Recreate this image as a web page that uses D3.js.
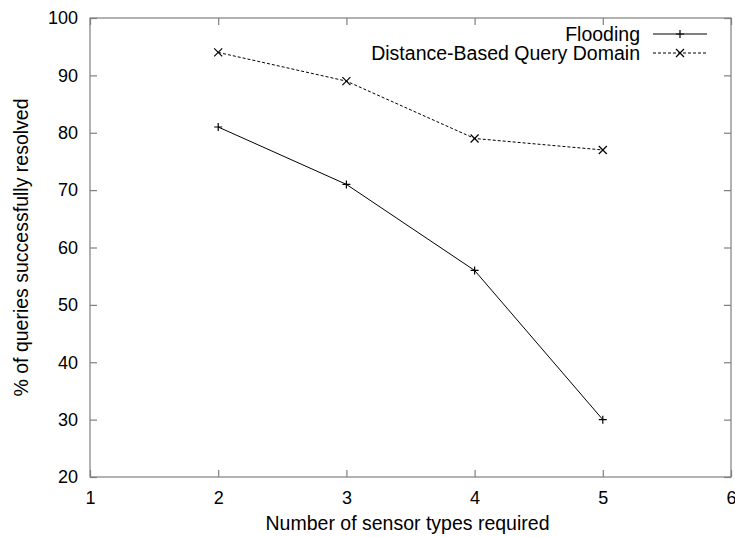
<!DOCTYPE html>
<html>
<head>
<meta charset="utf-8">
<script src="https://cdn.jsdelivr.net/npm/d3@7"></script>
<style>
  body { margin: 0; background: #fff; }
  text { font-family: "Liberation Sans", Arial, sans-serif; fill: #000; }
</style>
</head>
<body>
<svg width="735" height="537"></svg>
<script>
// data
var sensorTypes = [2, 3, 4, 5];
var flooding = [81, 71, 56, 30];
var distanceBased = [94, 89, 79, 77];
var xTicks = [1, 2, 3, 4, 5, 6];
var yTicks = [20, 30, 40, 50, 60, 70, 80, 90, 100];
var seriesNames = ["Flooding", "Distance-Based Query Domain"];

var margins = { top: 18, bottom: 60, left: 90, right: 4 };
var svg = d3.select("svg");
var svgWidth = +svg.attr("width");
var svgHeight = +svg.attr("height");
var chartWidth = svgWidth - margins.left - margins.right;
var chartHeight = svgHeight - margins.top - margins.bottom;

var g = svg.append("g")
  .attr("transform", `translate(${margins.left},${margins.top})`);

var xScale = d3.scaleLinear([1, 6], [0, chartWidth]);
var yScale = d3.scaleLinear([20, 100], [chartHeight, 0]);

var frameColor = "#7f7f7f";
var tick = 7;

// frame
g.append("rect")
  .attr("x", 0).attr("y", 0)
  .attr("width", chartWidth).attr("height", chartHeight)
  .attr("fill", "none").attr("stroke", frameColor).attr("stroke-width", 1.2);

// mirrored inward ticks
function styleAxis(sel) {
  sel.select(".domain").remove();
  sel.selectAll(".tick line").attr("stroke", frameColor).attr("stroke-width", 1.2);
  sel.selectAll(".tick text").style("font-size", "18px").attr("fill", "#000");
}

g.append("g")
  .attr("transform", `translate(0,${chartHeight})`)
  .call(d3.axisBottom(xScale).tickValues(xTicks).tickFormat(d3.format("d"))
    .tickSizeInner(-tick).tickSizeOuter(0).tickPadding(14))
  .call(styleAxis);

g.append("g")
  .call(d3.axisTop(xScale).tickValues(xTicks).tickFormat("")
    .tickSizeInner(-tick).tickSizeOuter(0))
  .call(styleAxis);

g.append("g")
  .call(d3.axisLeft(yScale).tickValues(yTicks).tickFormat(d3.format("d"))
    .tickSizeInner(-tick).tickSizeOuter(0).tickPadding(12))
  .call(styleAxis);

g.append("g")
  .attr("transform", `translate(${chartWidth},0)`)
  .call(d3.axisRight(yScale).tickValues(yTicks).tickFormat("")
    .tickSizeInner(-tick).tickSizeOuter(0))
  .call(styleAxis);

// axis titles
svg.append("text")
  .attr("x", margins.left + chartWidth / 2 - 3)
  .attr("y", 530)
  .attr("text-anchor", "middle")
  .style("font-size", "19.5px")
  .text("Number of sensor types required");

svg.append("text")
  .attr("transform", `translate(28,${margins.top + chartHeight / 2}) rotate(-90)`)
  .attr("text-anchor", "middle")
  .style("font-size", "19.5px")
  .text("% of queries successfully resolved");

// lines
var line = d3.line()
  .x(function (d) { return xScale(d[0]); })
  .y(function (d) { return yScale(d[1]); });

var floodPts = sensorTypes.map(function (s, i) { return [s, flooding[i]]; });
var distPts = sensorTypes.map(function (s, i) { return [s, distanceBased[i]]; });

g.append("path").datum(floodPts).attr("d", line)
  .attr("fill", "none").attr("stroke", "#000").attr("stroke-width", 1);
g.append("path").datum(distPts).attr("d", line)
  .attr("fill", "none").attr("stroke", "#000").attr("stroke-width", 1)
  .attr("stroke-dasharray", "3,2");

var m = 4;
function plus(sel, x, y) {
  sel.append("path")
    .attr("d", `M${x - m},${y}H${x + m}M${x},${y - m}V${y + m}`)
    .attr("stroke", "#000").attr("stroke-width", 1.2).attr("fill", "none");
}
function cross(sel, x, y) {
  sel.append("path")
    .attr("d", `M${x - m},${y - m}L${x + m},${y + m}M${x - m},${y + m}L${x + m},${y - m}`)
    .attr("stroke", "#000").attr("stroke-width", 1.2).attr("fill", "none");
}

floodPts.forEach(function (d) { plus(g, xScale(d[0]), yScale(d[1])); });
distPts.forEach(function (d) { cross(g, xScale(d[0]), yScale(d[1])); });

// legend
var legend = svg.append("g");
var legRows = [34, 53];
legRows.forEach(function (y, i) {
  legend.append("text")
    .attr("x", 640).attr("y", y + 7)
    .attr("text-anchor", "end")
    .style("font-size", "19.5px")
    .text(seriesNames[i]);
  var ln = legend.append("line")
    .attr("x1", 653).attr("x2", 707).attr("y1", y).attr("y2", y)
    .attr("stroke", "#000").attr("stroke-width", 1);
  if (i === 1) ln.attr("stroke-dasharray", "3,2");
  if (i === 0) plus(legend, 680, y); else cross(legend, 680, y);
});
</script>
</body>
</html>
